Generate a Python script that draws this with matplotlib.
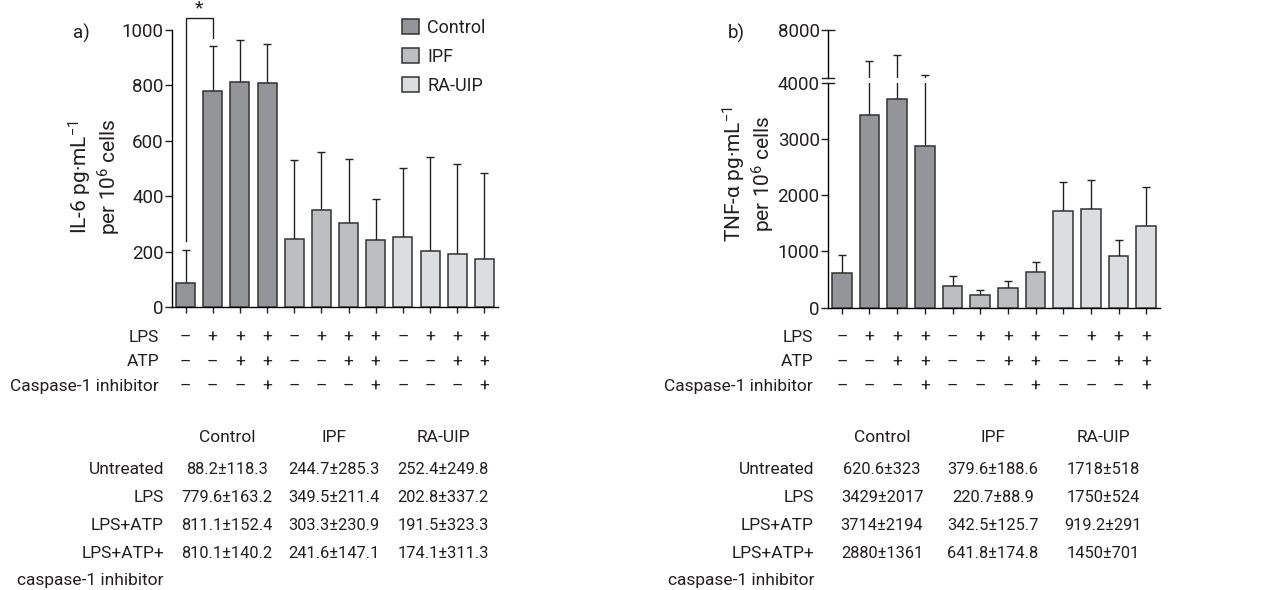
import numpy as np
import matplotlib
matplotlib.use('Agg')
import matplotlib.pyplot as plt
from matplotlib.patches import Patch
from matplotlib.transforms import blended_transform_factory

plt.rcParams['font.family'] = ['Roboto', 'DejaVu Sans']
plt.rcParams['mathtext.fontset'] = 'custom'
plt.rcParams['mathtext.rm'] = 'Roboto'
plt.rcParams['mathtext.it'] = 'Roboto:italic'
plt.rcParams['axes.linewidth'] = 1.0

# ---- data ----
groups = ['Control', 'IPF', 'RA-UIP']
table_rows = ['Untreated', 'LPS', 'LPS+ATP', 'LPS+ATP+\ncaspase-1 inhibitor']

lps_signs = ['–', '+', '+', '+']
atp_signs = ['–', '–', '+', '+']
casp_signs = ['–', '–', '–', '+']

il6_control = [88.2, 779.6, 811.1, 810.1]
il6_control_sd = [118.3, 163.2, 152.4, 140.2]
il6_ipf = [244.7, 349.5, 303.3, 241.6]
il6_ipf_sd = [285.3, 211.4, 230.9, 147.1]
il6_ra = [252.4, 202.8, 191.5, 174.1]
il6_ra_sd = [249.8, 337.2, 323.3, 311.3]

tnf_control = [620.6, 3429, 3714, 2880]
tnf_control_sd = [323, 2017, 2194, 1361]
tnf_ipf = [379.6, 220.7, 342.5, 641.8]
tnf_ipf_sd = [188.6, 88.9, 125.7, 174.8]
tnf_ra = [1718, 1750, 919.2, 1450]
tnf_ra_sd = [518, 524, 291, 701]

colors = ['#939598', '#bcbec0', '#dcddde']
edge = '#333333'
txt = '#231f20'
fs_lab = 12.5
fs_num = 11.8

W, H = 1267, 590
fig = plt.figure(figsize=(W / 100, H / 100), dpi=100)


def fx(px):
    return px / W


def fy(py):
    return 1 - py / H


def draw_bars(ax, means, sds):
    x = np.arange(12)
    m = np.concatenate(means)
    s = np.concatenate(sds)
    cols = np.repeat(colors, 4)
    ax.bar(x, m, width=0.7, color=cols, edgecolor=edge, linewidth=1.1, zorder=3)
    ax.errorbar(x, m, yerr=[np.zeros_like(s), s], fmt='none', ecolor='#222222',
                elinewidth=1.0, capsize=3, capthick=1.0, zorder=2)
    ax.set_xlim(-0.5, 11.5)
    for sp in ['top', 'right']:
        ax.spines[sp].set_visible(False)
    ax.set_xticks(x)
    ax.set_xticklabels([])
    ax.tick_params(axis='x', length=4, width=1.0, color=txt)
    ax.tick_params(axis='y', length=5, width=1.0, color=txt, pad=1,
                   labelsize=13.5, labelcolor=txt)


def draw_treatments(ax, label_right):
    tr = blended_transform_factory(ax.transData, fig.transFigure)
    rows = [('LPS', lps_signs, 337.7), ('ATP', atp_signs, 362), ('Caspase-1 inhibitor', casp_signs, 386.7)]
    for name, signs, py in rows:
        fig.text(fx(label_right), fy(py), name, ha='right', va='center', fontsize=fs_lab, color=txt)
        for i, s in enumerate(signs * 3):
            ax.text(i, fy(py), s, transform=tr, ha='center', va='center', fontsize=fs_lab, color=txt)


def draw_table(means, sds, label_right, col_x):
    for g, cx in zip(groups, col_x):
        fig.text(fx(cx), fy(437), g, ha='center', va='center', fontsize=fs_lab, color=txt)
    row_y = 469
    pitch = 28
    for r, lab in enumerate(table_rows):
        for k, line in enumerate(lab.split('\n')):
            fig.text(fx(label_right), fy(row_y + (r + k) * pitch), line,
                     ha='right', va='center', fontsize=fs_lab, color=txt)
        for gi, cx in enumerate(col_x):
            s = '{:g}±{:g}'.format(means[gi][r], sds[gi][r])
            fig.text(fx(cx), fy(row_y + r * pitch), s, ha='center', va='center',
                     fontsize=fs_num, color=txt)


# ---- panel a ----
axa = fig.add_axes([fx(172), fy(307), fx(498 - 172), (307 - 30) / H])
il6_means = [il6_control, il6_ipf, il6_ra]
il6_sds = [il6_control_sd, il6_ipf_sd, il6_ra_sd]
draw_bars(axa, il6_means, il6_sds)
axa.set_ylim(0, 1000)
axa.set_yticks([0, 200, 400, 600, 800, 1000])
fig.text(fx(95), fy(177), 'IL-6 pg·mL$^{-1}$\nper 10$^{6}$ cells', rotation=90,
         ha='center', va='center', multialignment='center', fontsize=15, color=txt,
         linespacing=1.05)

# significance bracket
y_left = il6_control[0] + il6_control_sd[0] + 30
y_right = il6_control[1] + il6_control_sd[1] + 28
y_top = 1045
axa.plot([0, 0, 1, 1], [y_left, y_top, y_top, y_right], color=txt, lw=1.0, clip_on=False)
axa.text(0.5, y_top, '*', ha='center', va='bottom', fontsize=14, color=txt)

handles = [Patch(facecolor=c, edgecolor=edge, linewidth=1.1) for c in colors]
axa.legend(handles, groups, loc='upper left', bbox_to_anchor=(0.705, 1.04), frameon=False,
           fontsize=13, handlelength=0.95, handleheight=0.95, handletextpad=0.45,
           labelspacing=0.6, borderpad=0, borderaxespad=0, labelcolor=txt)

fig.text(fx(81), fy(33), 'a)', ha='center', va='center', fontsize=13.5, color=txt)
draw_treatments(axa, 159)
draw_table(il6_means, il6_sds, 164, [227, 334, 443])

# ---- panel b (broken axis) ----
tnf_means = [tnf_control, tnf_ipf, tnf_ra]
tnf_sds = [tnf_control_sd, tnf_ipf_sd, tnf_ra_sd]

axb = fig.add_axes([fx(828), fy(307.7), fx(1160 - 828), (307.7 - 82.7) / H])
draw_bars(axb, tnf_means, tnf_sds)
axb.set_ylim(0, 4000)
axb.set_yticks([0, 1000, 2000, 3000, 4000])
axb.yaxis.get_major_ticks()[-1].tick1line.set_visible(False)
fig.text(fx(749), fy(174), 'TNF-α pg·mL$^{-1}$\nper 10$^{6}$ cells', rotation=90,
         ha='center', va='center', multialignment='center', fontsize=15, color=txt,
         linespacing=1.05)

axbt = fig.add_axes([fx(828), fy(78), fx(1160 - 828), (78 - 30) / H])
draw_bars(axbt, tnf_means, tnf_sds)
axbt.set_ylim(4000, 8000)
axbt.set_yticks([8000])
axbt.spines['bottom'].set_visible(False)
axbt.tick_params(axis='x', bottom=False)
axbt.tick_params(axis='y', direction='inout', length=10)
axbt.patch.set_visible(False)

# break marks
bw = 6 / (1160 - 828)
axb.plot([-bw, bw], [1, 1], transform=axb.transAxes, color=txt, lw=1.0, clip_on=False)
axbt.plot([-bw, bw], [0, 0], transform=axbt.transAxes, color=txt, lw=1.0, clip_on=False)

fig.text(fx(736), fy(33), 'b)', ha='center', va='center', fontsize=13.5, color=txt)
draw_treatments(axb, 813)
draw_table(tnf_means, tnf_sds, 814, [882, 993, 1103])

fig.savefig('out.png', dpi=100)
